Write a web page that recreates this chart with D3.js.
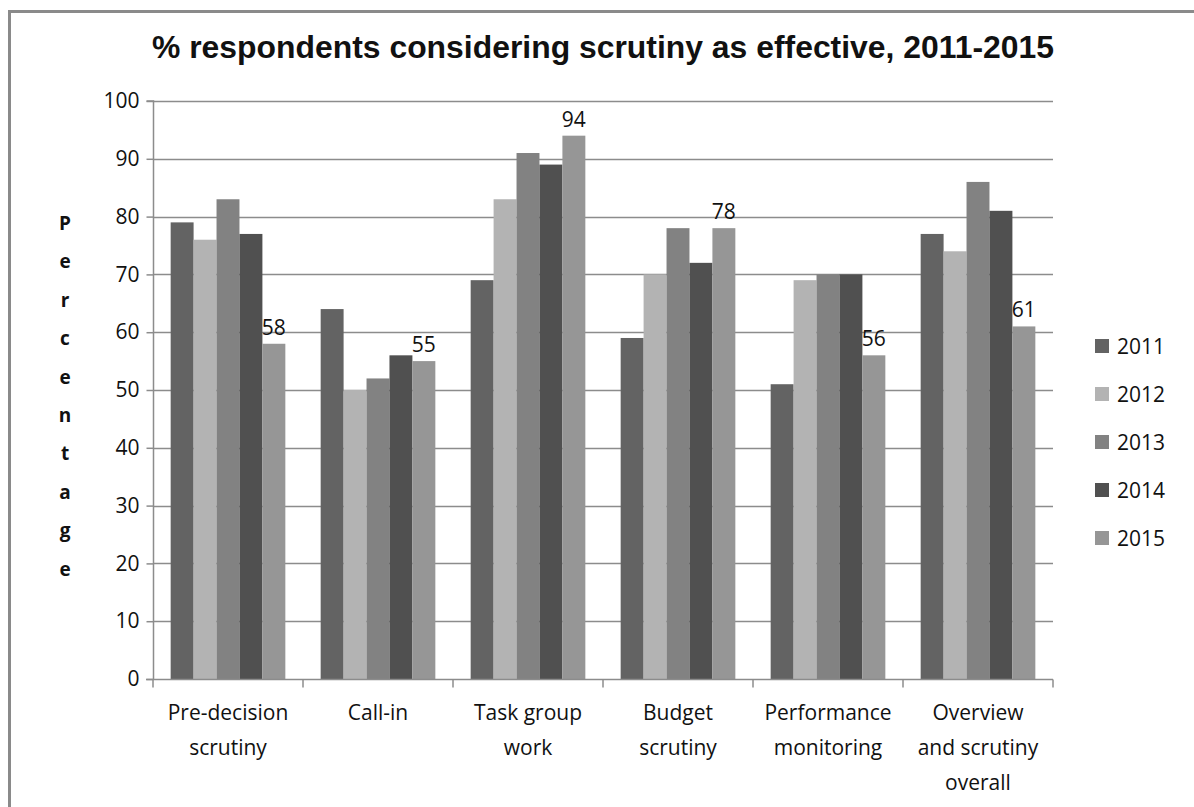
<!DOCTYPE html>
<html>
<head>
<meta charset="utf-8">
<script src="https://cdn.jsdelivr.net/npm/d3@7"></script>
<style>
  html, body { margin: 0; padding: 0; background: #fff; }
  svg { display: block; }
</style>
</head>
<body>
<script>
const categories = [
  ["Pre-decision", "scrutiny"],
  ["Call-in"],
  ["Task group", "work"],
  ["Budget", "scrutiny"],
  ["Performance", "monitoring"],
  ["Overview", "and scrutiny", "overall"]
];
const years = ["2011", "2012", "2013", "2014", "2015"];
const v2011 = [79, 64, 69, 59, 51, 77];
const v2012 = [76, 50, 83, 70, 69, 74];
const v2013 = [83, 52, 91, 78, 70, 86];
const v2014 = [77, 56, 89, 72, 70, 81];
const v2015 = [58, 55, 94, 78, 56, 61];
const yTicks = [0, 10, 20, 30, 40, 50, 60, 70, 80, 90, 100];
const colors = ["#636363", "#b3b3b3", "#828282", "#505050", "#969696"];
const seriesValues = [v2011, v2012, v2013, v2014, v2015];

const W = 1194, H = 807;
const svg = d3.select("body").append("svg").attr("width", W).attr("height", H);
const font = "'Open Sans', Lato, sans-serif";
const fs = 21;

// outer frame
svg.append("path").attr("d", `M9.5,${H} L9.5,11.5 L${W},11.5`)
  .attr("fill", "none").attr("stroke", "#8a8a8a").attr("stroke-width", 3);

const plot = { left: 153, right: 1053, top: 101, bottom: 679 };
const x0 = d3.scaleBand().domain(d3.range(categories.length)).range([plot.left, plot.right]).paddingInner(0).paddingOuter(0);
const x1 = d3.scaleBand().domain(years).range([0, x0.bandwidth()]).paddingOuter(0.77).paddingInner(0);
const y = d3.scaleLinear().domain([0, 100]).range([plot.bottom, plot.top]);

// gridlines
svg.append("g").selectAll("line").data(yTicks.filter(d => d > 0)).join("line")
  .attr("x1", plot.left).attr("x2", plot.right)
  .attr("y1", d => Math.round(y(d)) + 0.5).attr("y2", d => Math.round(y(d)) + 0.5)
  .attr("stroke", "#8c8c8c").attr("stroke-width", 1.5);

// bars
const groups = svg.append("g").selectAll("g").data(categories).join("g")
  .attr("transform", (d, i) => `translate(${x0(i)},0)`);
groups.selectAll("rect").data((d, i) => years.map((yr, k) => ({ yr, k, v: seriesValues[k][i] })))
  .join("rect")
  .attr("x", d => x1(d.yr)).attr("width", x1.bandwidth())
  .attr("y", d => y(d.v)).attr("height", d => y(0) - y(d.v))
  .attr("fill", d => colors[d.k]);

// data labels on 2015
groups.append("text")
  .attr("x", (d, i) => x1("2015") + x1.bandwidth() / 2)
  .attr("y", (d, i) => y(v2015[i]) - 9)
  .attr("text-anchor", "middle")
  .attr("font-family", font).attr("font-size", fs).attr("fill", "#111")
  .text((d, i) => v2015[i]);

// y axis
const yAxis = d3.axisLeft(y).tickValues(yTicks).tickSize(7).tickPadding(7);
const gy = svg.append("g").attr("transform", `translate(${plot.left + 0.5},0)`).call(yAxis);
gy.select(".domain").attr("stroke", "#8c8c8c").attr("stroke-width", 1.5).attr("d", `M-7,${plot.top}H0V${plot.bottom}`);
gy.selectAll(".tick line").attr("stroke", "#8c8c8c").attr("stroke-width", 1.5);
gy.selectAll(".tick text").attr("font-family", font).attr("font-size", fs).attr("fill", "#111");

// x axis
const xAxis = d3.axisBottom(x0).tickSize(0).tickFormat("");
const gx = svg.append("g").attr("transform", `translate(0,${plot.bottom + 0.5})`).call(xAxis);
gx.select(".domain").attr("stroke", "#8c8c8c").attr("stroke-width", 1.5).attr("d", `M${plot.left - 7},0H${plot.right}`);
const bounds = d3.range(categories.length + 1).map(i => i < categories.length ? x0(i) : plot.right);
gx.selectAll("line.sep").data(bounds).join("line").attr("class", "sep")
  .attr("x1", d => d).attr("x2", d => d).attr("y1", 0).attr("y2", 8)
  .attr("stroke", "#8c8c8c").attr("stroke-width", 1.5);

// category labels
const lab = svg.append("g").selectAll("text").data(categories).join("text")
  .attr("font-family", font).attr("font-size", fs).attr("fill", "#111")
  .attr("text-anchor", "middle");
lab.selectAll("tspan").data((d, i) => d.map(t => ({ t, i }))).join("tspan")
  .attr("x", d => x0(d.i) + x0.bandwidth() / 2)
  .attr("y", (d, j) => 720 + j * 35)
  .text(d => d.t);

// title
svg.append("text").attr("x", (plot.left + plot.right) / 2).attr("y", 58)
  .attr("text-anchor", "middle").attr("font-family", "'Liberation Sans', Arial, sans-serif")
  .attr("font-weight", "bold").attr("font-size", 32).attr("fill", "#111")
  .attr("textLength", 902).attr("lengthAdjust", "spacingAndGlyphs")
  .text("% respondents considering scrutiny as effective, 2011-2015");

// vertical y label
const ylabel = "Percentage".split("");
svg.append("g").selectAll("text").data(ylabel).join("text")
  .attr("x", 65).attr("y", (d, i) => 230 + i * 38.4)
  .attr("text-anchor", "middle").attr("font-family", font).attr("font-weight", "bold")
  .attr("font-size", 19).attr("fill", "#111").text(d => d);

// legend
const leg = svg.append("g").selectAll("g").data(years).join("g")
  .attr("transform", (d, i) => `translate(1095,${346 + i * 48})`);
leg.append("rect").attr("x", 0).attr("y", -7).attr("width", 14).attr("height", 14)
  .attr("fill", (d, i) => colors[i]);
leg.append("text").attr("x", 22).attr("y", 8).attr("font-family", font)
  .attr("font-size", fs).attr("fill", "#111").text(d => d);
</script>
</body>
</html>
